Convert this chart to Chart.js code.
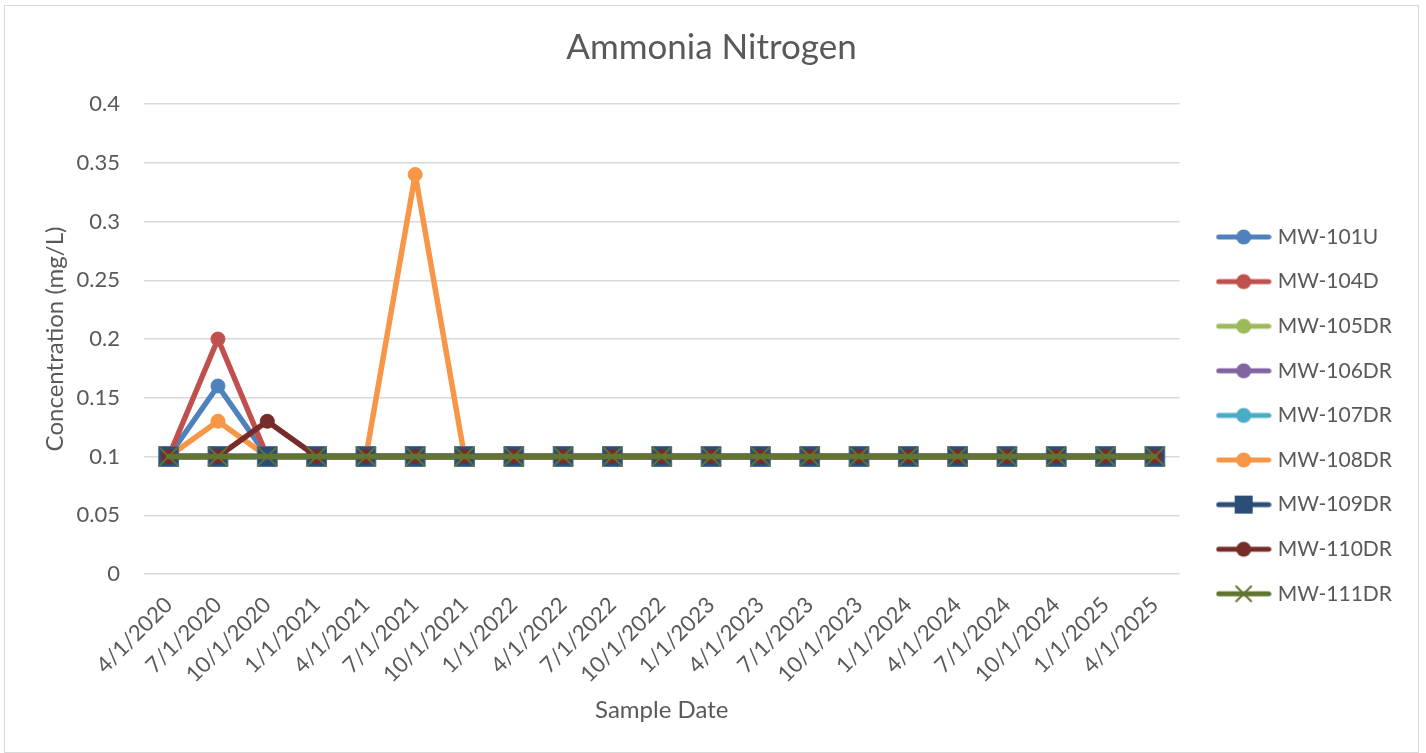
<!DOCTYPE html>
<html>
<head>
<meta charset="utf-8">
<script src="https://cdn.jsdelivr.net/npm/chart.js@4.4.1/dist/chart.umd.min.js"></script>
<style>
  html, body { margin: 0; padding: 0; background: #fff; }
  #frame {
    position: absolute; left: 4px; top: 5px;
    width: 1415px; height: 748px;
    box-sizing: border-box; border: 1px solid #d9d9d9; background: #fff;
  }
  #chart { display: block; }
</style>
</head>
<body>
<div id="frame"><canvas id="chart" width="1413" height="746"></canvas></div>
<script>
// --- data ---
const sampleDates = ['4/1/2020', '7/1/2020', '10/1/2020', '1/1/2021', '4/1/2021', '7/1/2021', '10/1/2021',
    '1/1/2022', '4/1/2022', '7/1/2022', '10/1/2022', '1/1/2023', '4/1/2023', '7/1/2023', '10/1/2023',
    '1/1/2024', '4/1/2024', '7/1/2024', '10/1/2024', '1/1/2025', '4/1/2025'];

const mw101U  = [0.1, 0.16, 0.1, 0.1, 0.1, 0.1, 0.1, 0.1, 0.1, 0.1, 0.1, 0.1, 0.1, 0.1, 0.1, 0.1, 0.1, 0.1, 0.1, 0.1, 0.1];
const mw104D  = [0.1, 0.2, 0.1, 0.1, 0.1, 0.1, 0.1, 0.1, 0.1, 0.1, 0.1, 0.1, 0.1, 0.1, 0.1, 0.1, 0.1, 0.1, 0.1, 0.1, 0.1];
const mw105DR = [0.1, 0.1, 0.1, 0.1, 0.1, 0.1, 0.1, 0.1, 0.1, 0.1, 0.1, 0.1, 0.1, 0.1, 0.1, 0.1, 0.1, 0.1, 0.1, 0.1, 0.1];
const mw106DR = [0.1, 0.1, 0.1, 0.1, 0.1, 0.1, 0.1, 0.1, 0.1, 0.1, 0.1, 0.1, 0.1, 0.1, 0.1, 0.1, 0.1, 0.1, 0.1, 0.1, 0.1];
const mw107DR = [0.1, 0.1, 0.1, 0.1, 0.1, 0.1, 0.1, 0.1, 0.1, 0.1, 0.1, 0.1, 0.1, 0.1, 0.1, 0.1, 0.1, 0.1, 0.1, 0.1, 0.1];
const mw108DR = [0.1, 0.13, 0.1, 0.1, 0.1, 0.34, 0.1, 0.1, 0.1, 0.1, 0.1, 0.1, 0.1, 0.1, 0.1, 0.1, 0.1, 0.1, 0.1, 0.1, 0.1];
const mw109DR = [0.1, 0.1, 0.1, 0.1, 0.1, 0.1, 0.1, 0.1, 0.1, 0.1, 0.1, 0.1, 0.1, 0.1, 0.1, 0.1, 0.1, 0.1, 0.1, 0.1, 0.1];
const mw110DR = [0.1, 0.1, 0.13, 0.1, 0.1, 0.1, 0.1, 0.1, 0.1, 0.1, 0.1, 0.1, 0.1, 0.1, 0.1, 0.1, 0.1, 0.1, 0.1, 0.1, 0.1];
const mw111DR = [0.1, 0.1, 0.1, 0.1, 0.1, 0.1, 0.1, 0.1, 0.1, 0.1, 0.1, 0.1, 0.1, 0.1, 0.1, 0.1, 0.1, 0.1, 0.1, 0.1, 0.1];

const wellNames = ['MW-101U', 'MW-104D', 'MW-105DR', 'MW-106DR', 'MW-107DR', 'MW-108DR', 'MW-109DR', 'MW-110DR', 'MW-111DR'];
const wellData = [mw101U, mw104D, mw105DR, mw106DR, mw107DR, mw108DR, mw109DR, mw110DR, mw111DR];
const wellColors = ['#4f81bd', '#c0504d', '#9bbb59', '#8064a2', '#4bacc6', '#f79646', '#2c4d75', '#772c2a', '#5f7530'];
const wellMarkers = ['circle', 'circle', 'circle', 'circle', 'circle', 'circle', 'rect', 'circle', 'crossRot'];

const yTicks = [0, 0.05, 0.1, 0.15, 0.2, 0.25, 0.3, 0.35, 0.4];

const FONT = 'Lato, "Open Sans", sans-serif';
const TEXT = '#595959';

// --- legend icons: line with marker in the middle ---
function legendIcon(color, marker) {
    const c = document.createElement('canvas');
    c.width = 56; c.height = 22;
    const g = c.getContext('2d');
    g.strokeStyle = color;
    g.lineWidth = 5;
    g.lineCap = 'round';
    g.beginPath();
    g.moveTo(3, 11);
    g.lineTo(53, 11);
    g.stroke();
    g.fillStyle = color;
    if (marker === 'rect') {
        g.fillRect(19, 2, 18, 18);
    } else if (marker === 'crossRot') {
        g.lineWidth = 2;
        g.lineCap = 'butt';
        g.beginPath();
        g.moveTo(20, 3); g.lineTo(36, 19);
        g.moveTo(36, 3); g.lineTo(20, 19);
        g.stroke();
    } else {
        g.beginPath();
        g.arc(28, 11, 7.5, 0, Math.PI * 2);
        g.fill();
    }
    return c;
}

const datasets = wellNames.map((name, i) => {
    const marker = wellMarkers[i];
    return {
        label: name,
        data: wellData[i],
        borderColor: wellColors[i],
        backgroundColor: wellColors[i],
        borderWidth: 5.5,
        borderCapStyle: 'round',
        borderJoinStyle: 'round',
        tension: 0,
        pointStyle: marker,
        pointRadius: marker === 'circle' ? 7 : 14,
        pointBorderWidth: marker === 'crossRot' ? 2 : 1,
        pointBackgroundColor: wellColors[i],
        pointBorderColor: marker === 'rect' ? '#4a6b98' : wellColors[i],
        order: wellNames.length - i  // later series drawn on top, like Excel
    };
});

new Chart(document.getElementById('chart'), {
    type: 'line',
    data: { labels: sampleDates, datasets: datasets },
    options: {
        responsive: false,
        animation: false,
        events: [],
        layout: { padding: { left: 16, right: 16, top: 0, bottom: 0 } },
        plugins: {
            title: {
                display: true,
                text: 'Ammonia Nitrogen',
                color: TEXT,
                font: { family: FONT, size: 35, weight: 'normal' },
                padding: { top: 21, bottom: 35 }
            },
            legend: {
                position: 'right',
                title: {
                    display: true, text: ' ',
                    font: { size: 10, lineHeight: 1 },
                    padding: { top: 0, bottom: 62.8 }
                },
                labels: {
                    usePointStyle: true,
                    pointStyleWidth: 47,
                    padding: 23.6,
                    color: TEXT,
                    font: { family: FONT, size: 21 },
                    generateLabels: (chart) => chart.data.datasets.map((ds, i) => ({
                        text: ds.label,
                        fillStyle: ds.borderColor,
                        strokeStyle: ds.borderColor,
                        lineWidth: 0,
                        pointStyle: legendIcon(wellColors[i], wellMarkers[i]),
                        hidden: false,
                        datasetIndex: i,
                        fontColor: TEXT
                    }))
                }
            },
            tooltip: { enabled: false }
        },
        scales: {
            x: {
                offset: true,
                grid: { display: false },
                border: { display: false },
                ticks: {
                    color: TEXT,
                    font: { family: FONT, size: 22 },
                    minRotation: 45,
                    maxRotation: 45,
                    autoSkip: false,
                    padding: 10
                },
                title: {
                    display: true,
                    text: 'Sample Date',
                    color: TEXT,
                    font: { family: FONT, size: 24 },
                    padding: { top: 0, bottom: 27.6 }
                },
                afterFit: (scale) => { scale.height = 178; }
            },
            y: {
                min: 0,
                max: 0.4,
                afterBuildTicks: (scale) => { scale.ticks = yTicks.map(v => ({ value: v })); },
                grid: { color: '#d9d9d9', lineWidth: 1.5, drawTicks: false },
                border: { display: false },
                ticks: {
                    color: TEXT,
                    font: { family: FONT, size: 22 },
                    padding: 24,
                    callback: (v) => String(Number(v.toFixed(2)))
                },
                title: {
                    display: true,
                    text: 'Concentration (mg/L)',
                    color: TEXT,
                    font: { family: FONT, size: 24 },
                    padding: { top: 19.6, bottom: 8 }
                },
                afterFit: (scale) => { scale.width = 123; }
            },
            gap: {
                // empty strip between the plot and the legend
                position: 'right',
                display: true,
                grid: { display: false },
                border: { display: false },
                ticks: { display: false },
                afterFit: (scale) => { scale.width = 17; }
            }
        }
    }
});
</script>
</body>
</html>
